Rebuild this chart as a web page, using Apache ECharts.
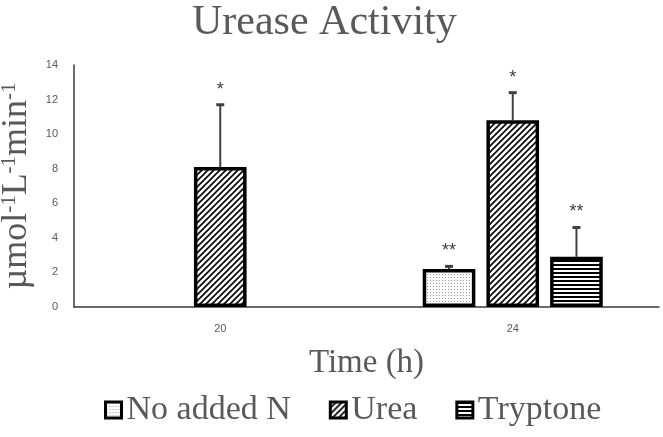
<!DOCTYPE html>
<html>
<head>
<meta charset="utf-8">
<script src="https://cdn.jsdelivr.net/npm/echarts@6/dist/echarts.min.js"></script>
<style>
  html, body { margin: 0; padding: 0; background: #fff; }
  #chart { width: 663px; height: 437px; }
</style>
</head>
<body>
<div id="chart"></div>
<script>
  // data
  var categories = ['20', '24']
  var noAddedN = [null, 2.2]
  var urea = [8.1, 10.8]
  var tryptone = [null, 2.9]
  var noAddedNErr = [null, 0.15]
  var ureaErr = [3.6, 1.6]
  var tryptoneErr = [null, 1.7]
  var noAddedNSig = ['', '**']
  var ureaSig = ['*', '*']
  var tryptoneSig = ['', '**']

  // hatch fills
  function makePattern(type) {
    var c = document.createElement('canvas')
    var ctx = c.getContext('2d')
    if (type === 'dots') {
      c.width = 3; c.height = 3
      ctx.fillStyle = '#fff'
      ctx.fillRect(0, 0, 3, 3)
      ctx.fillStyle = '#9a9a9a'
      ctx.fillRect(1, 1, 1, 1)
    } else if (type === 'diag') {
      c.width = 6; c.height = 6
      ctx.fillStyle = '#fff'
      ctx.fillRect(0, 0, 6, 6)
      ctx.strokeStyle = '#000'
      ctx.lineWidth = 1.6
      ctx.beginPath()
      ctx.moveTo(-3, 9); ctx.lineTo(9, -3)
      ctx.moveTo(-6, 6); ctx.lineTo(6, -6)
      ctx.moveTo(0, 12); ctx.lineTo(12, 0)
      ctx.stroke()
    } else {
      c.width = 4; c.height = 4
      ctx.fillStyle = '#fff'
      ctx.fillRect(0, 0, 4, 4)
      ctx.fillStyle = '#000'
      ctx.fillRect(0, 0, 4, 2)
    }
    return { image: c, repeat: 'repeat' }
  }

  var BAR_W = 0.18
  var BAR_GAP = 0.21

  function errSeries(name, vals, errs, sigs, slot) {
    var data = categories.map(function (c, i) {
      return vals[i] == null ? null : [i, vals[i], errs[i], sigs[i]]
    }).filter(function (d) { return d })
    return {
      type: 'custom',
      name: name + ' err',
      z: 5,
      silent: true,
      data: data,
      renderItem: function (params, api) {
        var x = api.value(0)
        var v = api.value(1)
        var e = api.value(2)
        var sig = data[params.dataIndex][3]
        var bw = api.size([1, 0])[0]
        var off = slot * bw * BAR_W * (1 + BAR_GAP)
        var p0 = api.coord([x, v])
        var p1 = api.coord([x, v + e])
        var cx = p0[0] + off
        return {
          type: 'group',
          children: [
            { type: 'line', shape: { x1: cx, y1: p0[1], x2: cx, y2: p1[1] },
              style: { stroke: '#404040', lineWidth: 2 } },
            { type: 'line', shape: { x1: cx - 4, y1: p1[1], x2: cx + 4, y2: p1[1] },
              style: { stroke: '#404040', lineWidth: 3 } },
            { type: 'text', x: cx, y: p1[1] - 6,
              style: { text: sig, fill: '#404040', font: '18px "Liberation Sans"',
                align: 'center', verticalAlign: 'bottom' } }
          ]
        }
      }
    }
  }

  var barStyle = function (pat) {
    return { color: makePattern(pat), borderColor: '#000', borderWidth: 3.5 }
  }

  var chart = echarts.init(document.getElementById('chart'))
  var option = {
    animation: false,
    title: {
      text: 'Urease Activity',
      left: 187,
      top: -3,
      textStyle: { fontFamily: 'Liberation Serif', fontSize: 42, fontWeight: 'normal', color: '#595959' }
    },
    legend: {
      data: ['No added N', 'Urea', 'Tryptone'],
      left: 99,
      top: 388,
      icon: 'rect',
      itemWidth: 16,
      itemHeight: 16,
      itemGap: 38,
      itemStyle: { borderColor: '#000', borderWidth: 3 },
      textStyle: { fontFamily: 'Liberation Serif', fontSize: 34, color: '#595959' }
    },
    grid: { left: 74, right: 4, top: 65, bottom: 130, outerBoundsMode: 'none' },
    xAxis: {
      type: 'category',
      data: categories,
      name: 'Time (h)',
      nameLocation: 'middle',
      nameGap: 40,
      nameTextStyle: { fontFamily: 'Liberation Serif', fontSize: 33, color: '#595959' },
      axisLine: { lineStyle: { color: '#3a3a3a', width: 1.5 } },
      axisTick: { show: false },
      axisLabel: { color: '#595959', fontSize: 11, margin: 16, fontFamily: 'Liberation Sans' }
    },
    yAxis: {
      type: 'value',
      min: 0,
      max: 14,
      interval: 2,
      name: '{m|µmol}{s|-1}{m|L}{s|-1}{m|min}{s|-1}',
      nameLocation: 'middle',
      nameGap: 38,
      nameTextStyle: {
        color: '#595959',
        rich: {
          m: { fontFamily: 'Liberation Serif', fontSize: 36, color: '#595959', verticalAlign: 'bottom' },
          s: { fontFamily: 'Liberation Serif', fontSize: 21, color: '#595959', verticalAlign: 'top' }
        }
      },
      axisLine: { show: true, lineStyle: { color: '#3a3a3a', width: 1.5 } },
      axisTick: { show: false },
      splitLine: { show: false },
      axisLabel: { color: '#595959', fontSize: 11, margin: 16, fontFamily: 'Liberation Sans' }
    },
    series: [
      { name: 'No added N', type: 'bar', data: noAddedN, barWidth: (BAR_W * 100) + '%', barGap: (BAR_GAP * 100) + '%',
        itemStyle: barStyle('dots') },
      { name: 'Urea', type: 'bar', data: urea, barWidth: (BAR_W * 100) + '%', barGap: (BAR_GAP * 100) + '%',
        itemStyle: barStyle('diag') },
      { name: 'Tryptone', type: 'bar', data: tryptone, barWidth: (BAR_W * 100) + '%', barGap: (BAR_GAP * 100) + '%',
        itemStyle: barStyle('horiz') },
      errSeries('No added N', noAddedN, noAddedNErr, noAddedNSig, -1),
      errSeries('Urea', urea, ureaErr, ureaSig, 0),
      errSeries('Tryptone', tryptone, tryptoneErr, tryptoneSig, 1)
    ]
  }
  chart.setOption(option)
</script>
</body>
</html>
